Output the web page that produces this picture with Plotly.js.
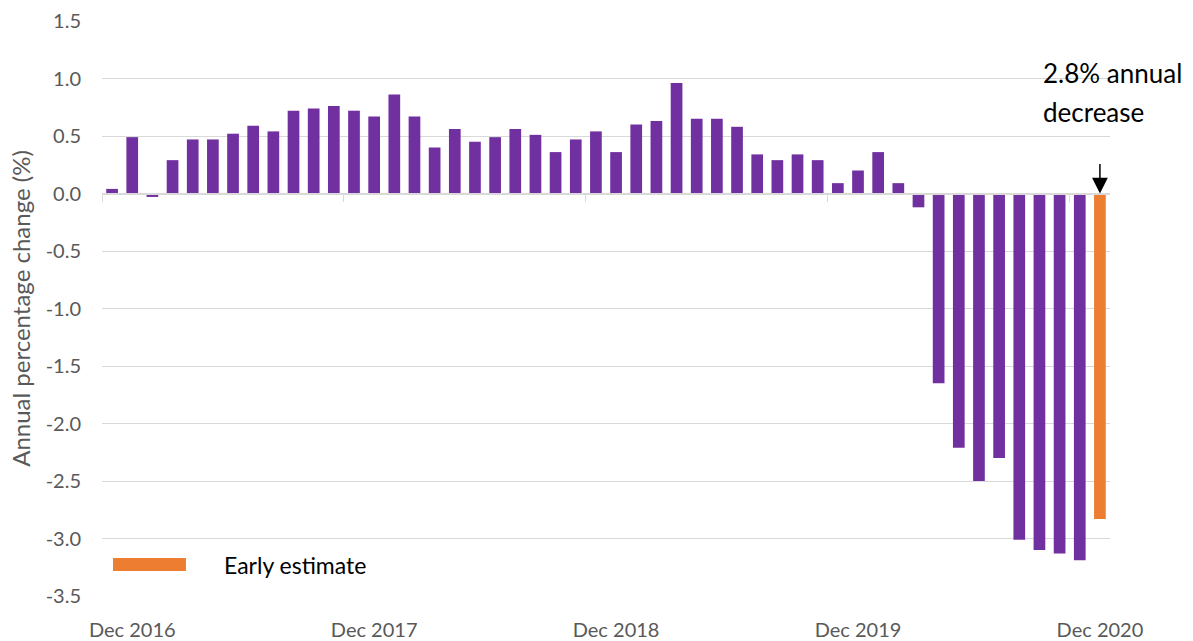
<!DOCTYPE html>
<html>
<head>
<meta charset="utf-8">
<script src="https://cdn.plot.ly/plotly-3.0.1.min.js"></script>
<style>html,body{margin:0;padding:0;background:#fff}#chart{width:1193px;height:641px}</style>
</head>
<body>
<div id="chart"></div>
<script>
const months = [
  'Nov 2016','Dec 2016',
  'Jan 2017','Feb 2017','Mar 2017','Apr 2017','May 2017','Jun 2017','Jul 2017','Aug 2017','Sep 2017','Oct 2017','Nov 2017','Dec 2017',
  'Jan 2018','Feb 2018','Mar 2018','Apr 2018','May 2018','Jun 2018','Jul 2018','Aug 2018','Sep 2018','Oct 2018','Nov 2018','Dec 2018',
  'Jan 2019','Feb 2019','Mar 2019','Apr 2019','May 2019','Jun 2019','Jul 2019','Aug 2019','Sep 2019','Oct 2019','Nov 2019','Dec 2019',
  'Jan 2020','Feb 2020','Mar 2020','Apr 2020','May 2020','Jun 2020','Jul 2020','Aug 2020','Sep 2020','Oct 2020','Nov 2020','Dec 2020'
];
const monthlyChange = [
  0.04, 0.49,
  -0.03, 0.29, 0.47, 0.47, 0.52, 0.59, 0.54, 0.72, 0.74, 0.76, 0.72, 0.67,
  0.86, 0.67, 0.40, 0.56, 0.45, 0.49, 0.56, 0.51, 0.36, 0.47, 0.54, 0.36,
  0.60, 0.63, 0.96, 0.65, 0.65, 0.58, 0.34, 0.29, 0.34, 0.29, 0.09, 0.20,
  0.36, 0.09, -0.12, -1.65, -2.21, -2.50, -2.30, -3.01, -3.10, -3.13, -3.19
];
const earlyEstimateMonths = ['Dec 2020'];
const earlyEstimateValues = [-2.83];
const tickLabels = ['Dec 2016','Dec 2017','Dec 2018','Dec 2019','Dec 2020'];
const yTicks = [1.5, 1.0, 0.5, 0.0, -0.5, -1.0, -1.5, -2.0, -2.5, -3.0, -3.5];

const idx = m => months.indexOf(m);
const monthlyMonths = months.slice(0, monthlyChange.length);
const labelIdx = tickLabels.map(idx);
const boundaries = labelIdx.map(i => i - 1.5);
const FONT = 'Lato, "Open Sans", sans-serif';
const PURPLE = '#7030A0', ORANGE = '#ED7D31', GRID = '#d9d9d9', TXT = '#595959';

const traces = [
  {type:'bar', x: monthlyMonths.map(idx), y: monthlyChange, customdata: monthlyMonths,
   marker:{color:PURPLE, line:{width:0}}, name:'Annual change',
   hovertemplate:'%{customdata}: %{y:.2f}%<extra></extra>'},
  {type:'bar', x: earlyEstimateMonths.map(idx), y: earlyEstimateValues, customdata: earlyEstimateMonths,
   marker:{color:ORANGE, line:{width:0}}, name:'Early estimate',
   hovertemplate:'%{customdata}: %{y:.2f}%<extra></extra>'},
  {type:'scatter', x:[], y:[], xaxis:'x2', yaxis:'y', showlegend:false, hoverinfo:'skip'}
];

const layout = {
  width:1193, height:641,
  margin:{l:102, r:83, t:21, b:45},
  paper_bgcolor:'#fff', plot_bgcolor:'#fff',
  showlegend:false,
  barmode:'overlay', bargap:0.42,
  font:{family:FONT, color:TXT, size:20},
  xaxis:{range:[-0.5, 49.5], tickvals:labelIdx, ticktext:tickLabels, showgrid:false, zeroline:false,
         showline:false, ticks:'', ticklabelstandoff:20, tickfont:{family:FONT, size:20, color:TXT}},
  xaxis2:{overlaying:'x', range:[-0.5, 49.5], anchor:'free', position:0.7, showline:true,
          linecolor:GRID, linewidth:1.5, ticks:'outside', ticklen:8, tickwidth:1.3, tickcolor:GRID,
          tickvals:boundaries, showticklabels:false, showgrid:false, zeroline:false},
  yaxis:{range:[-3.5, 1.5], tickvals:yTicks, ticktext:yTicks.map(v => v.toFixed(1)),
         showgrid:true, gridcolor:GRID, gridwidth:1.3, zeroline:false, showline:false, ticks:'',
         ticklabelstandoff:20, tickfont:{family:FONT, size:20, color:TXT},
         title:{text:'Annual percentage change (%)', font:{family:FONT, size:24, color:TXT}, standoff:8}},
  shapes:[
    {type:'rect', xref:'paper', yref:'paper', x0:0.0992, x1:0.3512, y0:0.08, y1:0.115,
     fillcolor:'#fff', line:{width:0}, layer:'between'},
    {type:'rect', xref:'paper', yref:'paper', x0:0.9107, x1:1.0, y0:0.819, y1:0.976,
     fillcolor:'#fff', line:{width:0}, layer:'between'},
    {type:'rect', xref:'paper', yref:'paper', x0:0.0109, x1:0.0833, y0:0.0435, y1:0.066,
     fillcolor:ORANGE, line:{width:0}, layer:'above'}
  ],
  annotations:[
    {xref:'paper', yref:'paper', x:0.119, y:0.054, xanchor:'left', yanchor:'middle', showarrow:false,
     text:'Early estimate', font:{family:FONT, size:23, color:'#000'}},
    {xref:'paper', yref:'paper', x:0.9315, y:0.909, xanchor:'left', yanchor:'middle', showarrow:false,
     text:'2.8% annual', font:{family:FONT, size:26, color:'#000'}},
    {xref:'paper', yref:'paper', x:0.9315, y:0.841, xanchor:'left', yanchor:'middle', showarrow:false,
     text:'decrease', font:{family:FONT, size:26, color:'#000'}},
    {xref:'x', yref:'y', x:idx('Dec 2020'), y:0, text:'', showarrow:true, ax:0, ay:-31,
     arrowhead:2, arrowsize:2.1, arrowwidth:1.5, arrowcolor:'#000', standoff:0}
  ]
};

Plotly.newPlot('chart', traces, layout, {displayModeBar:false});
</script>
</body>
</html>
